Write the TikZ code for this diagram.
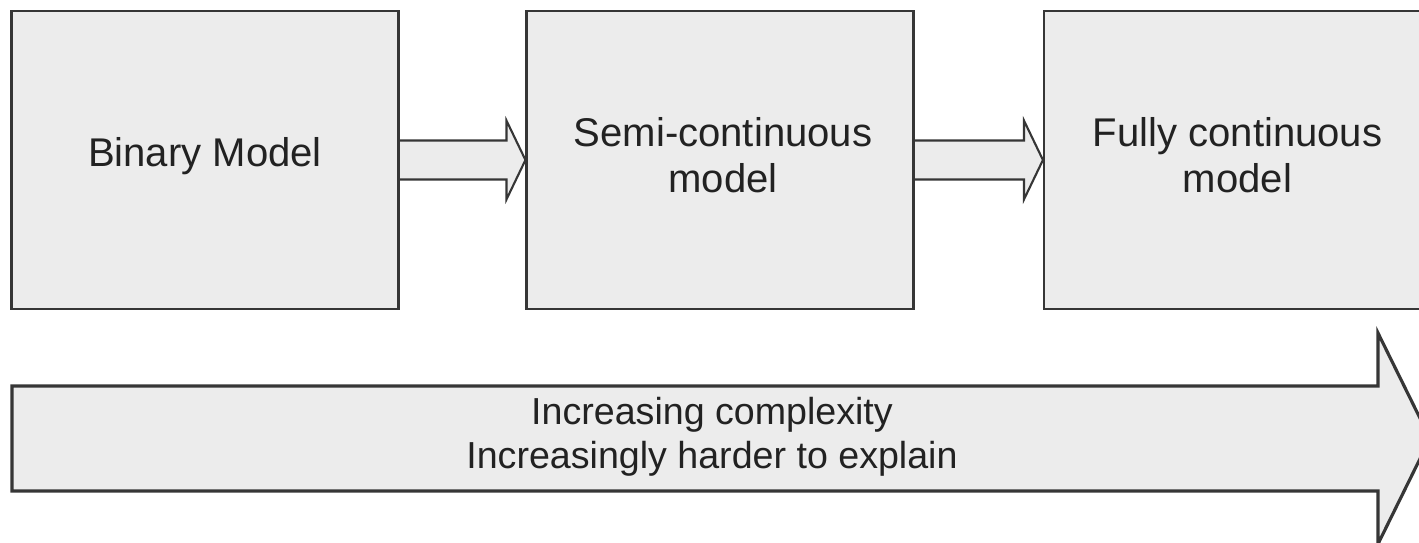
\documentclass[tikz,border=0pt]{standalone}
\usepackage{fontspec}
\setmainfont{Liberation Sans}
\usetikzlibrary{calc,backgrounds}

\definecolor{boxfill}{HTML}{ECECEC}
\definecolor{edge}{HTML}{363636}
\definecolor{ink}{HTML}{222222}

\tikzset{
  stage/.style={draw=edge, line width=0.6pt, fill=boxfill,
    minimum width=3.87cm, minimum height=2.98cm, inner sep=0pt},
  stagetext/.style={text=ink, align=center, inner sep=0pt,
    font=\fontsize{11.4pt}{13.2pt}\selectfont},
  trendtext/.style={stagetext, font=\fontsize{10.7pt}{12.5pt}\selectfont},
  blockarrow/.style={draw=edge, line width=0.6pt, fill=boxfill, line join=miter},
  bigarrow/.style={draw=edge, line width=0.9pt, fill=boxfill, line join=miter},
}

\begin{document}
\begin{tikzpicture}
  \useasboundingbox (0,0) rectangle (14.19,-5.43);
  \clip (0,0) rectangle (14.19,-5.43);

  % three model stages
  \node[stage] (bin)  at (2.05,-1.60) {};
  \node[stage] (semi) at (7.20,-1.60) {};
  \node[stage] (full) at (12.375,-1.60) {};

  \node[stagetext] (binT)  at ($(bin.center)+(0,0.04)$)  {Binary Model};
  \node[stagetext] (semiT) at ($(semi.center)+(0.03,0.05)$) {Semi-continuous\\model};
  \node[stagetext] (fullT) at ($(full.center)+(0,0.05)$) {Fully continuous\\model};

  % block arrows between stages
  \begin{scope}[on background layer]
    \foreach \a/\b in {bin/semi, semi/full}{
      \filldraw[blockarrow]
        ($(\a.east)+(0,0.195)$) -- ($(\b.west)+(-0.19,0.195)$)
        -- ($(\b.west)+(-0.19,0.395)$) -- (\b.west)
        -- ($(\b.west)+(-0.19,-0.395)$) -- ($(\b.west)+(-0.19,-0.195)$)
        -- ($(\a.east)+(0,-0.195)$);
    }
  \end{scope}

  % large arrow along the bottom
  \coordinate (start) at (0.12,-4.385);
  \coordinate (tip)   at (14.30,-4.385);
  \filldraw[bigarrow]
    ($(start)+(0,0.525)$) -- ($(tip)+(-0.52,0.525)$)
    -- ($(tip)+(-0.52,1.055)$) -- (tip)
    -- ($(tip)+(-0.52,-1.055)$) -- ($(tip)+(-0.52,-0.525)$)
    -- ($(start)+(0,-0.525)$) -- cycle;
  \node[trendtext] (trend) at (7.12,-4.37)
    {Increasing complexity\\Increasingly harder to explain};
\end{tikzpicture}
\end{document}
